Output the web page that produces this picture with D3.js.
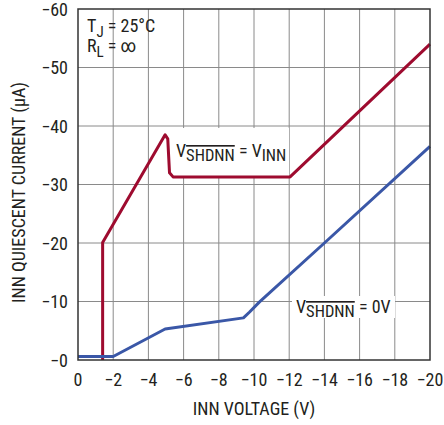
<!DOCTYPE html>
<html>
<head>
<meta charset="utf-8">
<script src="https://d3js.org/d3.v7.min.js"></script>
<style>
body { margin: 0; background: #fff; }
text { font-family: "Liberation Sans Narrow", "Roboto Condensed", "Liberation Sans", sans-serif; fill: #231f20; }
.grid line { stroke: #8a8a8a; stroke-width: 1; }
</style>
</head>
<body>
<script>

// data (INN voltage in V, quiescent current in uA)
var xTicks = [0, -2, -4, -6, -8, -10, -12, -14, -16, -18, -20];
var yTicks = [0, -10, -20, -30, -40, -50, -60];

var redVolts = [-1.4, -1.4, -4.95, -5.1, -5.2, -5.4, -12.05, -20];
var redAmps  = [0, -20.1, -38.5, -37.8, -32, -31.3, -31.3, -54];

var blueVolts = [0, -2, -4.95, -9.4, -9.75, -10.3, -14, -20];
var blueAmps  = [-0.6, -0.6, -5.3, -7.2, -8.2, -9.9, -20, -36.5];

var width = 444, height = 425;
var pLeft = 78, pRight = 430, pTop = 9, pBottom = 360;

var x = d3.scaleLinear().domain([0, -20]).range([pLeft, pRight]);
var y = d3.scaleLinear().domain([0, -60]).range([pBottom, pTop]);

var svg = d3.select("body").append("svg")
    .attr("width", width)
    .attr("height", height);

// grid
var grid = svg.append("g").attr("class", "grid");
grid.selectAll(".vx").data(xTicks.slice(1, -1)).enter().append("line")
    .attr("x1", function(d) { return x(d); })
    .attr("x2", function(d) { return x(d); })
    .attr("y1", pTop).attr("y2", pBottom);
grid.selectAll(".hy").data(yTicks.slice(1, -1)).enter().append("line")
    .attr("y1", function(d) { return y(d); })
    .attr("y2", function(d) { return y(d); })
    .attr("x1", pLeft).attr("x2", pRight);

// tick labels
var fmt = function(d) { return "\u2212" + Math.abs(d); };

svg.append("g").selectAll("text").data(xTicks).enter().append("text")
    .attr("x", function(d) { return x(d); })
    .attr("y", 386)
    .attr("text-anchor", "middle")
    .style("font-size", "18px")
    .text(function(d) { return d === 0 ? "0" : fmt(d); });

svg.append("g").selectAll("text").data(yTicks).enter().append("text")
    .attr("x", 68)
    .attr("y", function(d) { return y(d) + 6.5; })
    .attr("text-anchor", "end")
    .style("font-size", "18px")
    .text(fmt);

// axis titles
svg.append("text")
    .attr("x", (pLeft + pRight) / 2)
    .attr("y", 415)
    .attr("text-anchor", "middle")
    .style("font-size", "18px")
    .text("INN VOLTAGE (V)");

svg.append("text")
    .attr("transform", "translate(25," + ((pTop + pBottom) / 2 + 8) + ") rotate(-90)")
    .attr("text-anchor", "middle")
    .style("font-size", "18px")
    .text("INN QUIESCENT CURRENT (\u00b5A)");

// label boxes that hide the grid
svg.append("rect").attr("x", 173).attr("y", 128).attr("width", 116).attr("height", 48).attr("fill", "#fff");
svg.append("rect").attr("x", 292).attr("y", 296).attr("width", 103).attr("height", 22).attr("fill", "#fff");

// curves
var line = d3.line()
    .x(function(d) { return x(d[0]); })
    .y(function(d) { return y(d[1]); });

svg.append("path")
    .datum(d3.zip(redVolts, redAmps))
    .attr("d", line)
    .attr("fill", "none")
    .attr("stroke", "#9e0b2f")
    .attr("stroke-width", 3)
    .attr("stroke-linejoin", "round");

svg.append("path")
    .datum(d3.zip(blueVolts, blueAmps))
    .attr("d", line)
    .attr("fill", "none")
    .attr("stroke", "#3a57a7")
    .attr("stroke-width", 3)
    .attr("stroke-linejoin", "round");

// frame
svg.append("rect")
    .attr("x", pLeft).attr("y", pTop)
    .attr("width", pRight - pLeft).attr("height", pBottom - pTop)
    .attr("fill", "none")
    .attr("stroke", "#333")
    .attr("stroke-width", 1.5);

// notes
function sub(t, main, s, rest) {
  t.append("tspan").text(main);
  t.append("tspan").attr("dy", 5).style("font-size", "15px").text(s);
  if (rest) t.append("tspan").attr("dy", -5).text(rest);
}

var t1 = svg.append("text").attr("x", 87).attr("y", 32).style("font-size", "18px");
sub(t1, "T", "J", " = 25\u00b0C");
var t2 = svg.append("text").attr("x", 87).attr("y", 52).style("font-size", "18px");
sub(t2, "R", "L", " = \u221e");

var t3 = svg.append("text").attr("x", 176).attr("y", 157).style("font-size", "18px");
t3.append("tspan").text("V");
t3.append("tspan").attr("dy", 4).style("font-size", "16.5px").style("text-decoration", "overline").text("SHDNN");
t3.append("tspan").attr("dy", -4).text(" = V");
t3.append("tspan").attr("dy", 4).style("font-size", "16.5px").text("INN");

var t4 = svg.append("text").attr("x", 296).attr("y", 313).style("font-size", "18px");
t4.append("tspan").text("V");
t4.append("tspan").attr("dy", 4).style("font-size", "16.5px").style("text-decoration", "overline").text("SHDNN");
t4.append("tspan").attr("dy", -4).text(" = 0V");

</script>
</body>
</html>
